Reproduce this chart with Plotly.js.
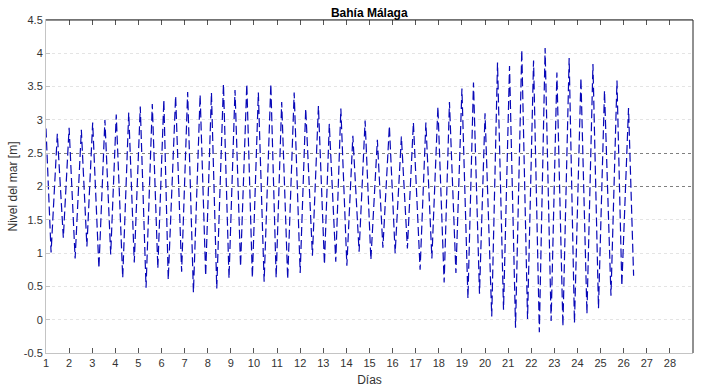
<!DOCTYPE html>
<html>
<head>
<meta charset="utf-8">
<script src="https://cdn.plot.ly/plotly-3.0.1.min.js"></script>
<style>html,body{margin:0;padding:0;background:#fff}#chart{width:724px;height:390px}</style>
</head>
<body>
<div id="chart"></div>
<script>
// Tide extremes (time in days, sea level in m)
const dias = [
  1.00, 1.22, 1.49, 1.75, 2.00, 2.26, 2.53, 2.77, 3.02, 3.29,
  3.55, 3.80, 4.04, 4.32, 4.58, 4.82, 5.08, 5.33, 5.60, 5.84,
  6.10, 6.29, 6.61, 6.87, 7.13, 7.38, 7.67, 7.91, 8.16, 8.39,
  8.68, 8.92, 9.18, 9.42, 9.69, 9.93, 10.19, 10.44, 10.73, 10.96,
  11.20, 11.46, 11.74, 12.00, 12.24, 12.53, 12.79, 13.05, 13.26, 13.54,
  13.76, 14.02, 14.28, 14.55, 14.81, 15.06, 15.34, 15.58, 15.86, 16.11,
  16.38, 16.64, 16.90, 17.19, 17.44, 17.70, 17.96, 18.23, 18.46, 18.74,
  19.00, 19.26, 19.50, 19.76, 20.00, 20.29, 20.54, 20.80, 21.06, 21.32,
  21.59, 21.84, 22.10, 22.35, 22.60, 22.86, 23.11, 23.37, 23.64, 23.87,
  24.15, 24.41, 24.67, 24.91, 25.17, 25.45, 25.71, 25.92, 26.21, 26.43
];
const nivel = [
  2.87, 1.01, 2.79, 1.23, 2.88, 0.92, 2.85, 1.10, 2.96, 0.77,
  3.00, 0.98, 3.08, 0.63, 3.11, 0.86, 3.20, 0.48, 3.24, 0.77,
  3.30, 0.60, 3.36, 0.72, 3.42, 0.41, 3.38, 0.66, 3.41, 0.47,
  3.54, 0.62, 3.45, 0.80, 3.54, 0.63, 3.41, 0.57, 3.54, 0.63,
  3.27, 0.61, 3.41, 0.70, 3.17, 0.96, 3.21, 0.83, 2.94, 0.87,
  3.17, 0.81, 2.76, 1.02, 2.99, 0.90, 2.70, 1.08, 2.91, 1.00,
  2.75, 1.07, 2.96, 0.75, 2.96, 0.92, 3.20, 0.56, 3.27, 0.70,
  3.47, 0.32, 3.56, 0.39, 3.10, 0.05, 3.86, 0.15, 3.81, -0.12,
  4.05, 0.01, 3.89, -0.19, 4.08, -0.02, 3.71, -0.10, 3.93, -0.05,
  3.63, 0.09, 3.84, 0.17, 3.44, 0.36, 3.59, 0.51, 3.18, 0.66
];
const xTicks = [1,2,3,4,5,6,7,8,9,10,11,12,13,14,15,16,17,18,19,20,21,22,23,24,25,26,27,28];
const yTicks = [-0.5,0,0.5,1,1.5,2,2.5,3,3.5,4,4.5];
const yTickText = ['-0.5','0','0.5','1','1.5','2','2.5','3','3.5','4','4.5'];
const darkGrid = [2, 2.5];

const fam = 'Liberation Sans, Arial, sans-serif';
const font = {family: fam, size: 11, color: '#333333'};

const traces = [
  {x: dias, y: nivel, type: 'scatter', mode: 'lines',
   line: {color: '#0808b8', width: 1.2, dash: '9px,4px'}, hoverinfo: 'skip', showlegend: false},
  {x: [dias[0]], y: [nivel[0]], yaxis: 'y2', type: 'scatter', mode: 'markers',
   marker: {opacity: 0}, hoverinfo: 'skip', showlegend: false}
];

const layout = {
  width: 724, height: 390,
  margin: {l: 46, r: 31, t: 20, b: 37},
  paper_bgcolor: '#ffffff', plot_bgcolor: '#ffffff',
  font: font,
  title: {text: '<b>Bahía Málaga</b>', x: 0.51, xanchor: 'center', y: 0.978, yanchor: 'top',
          font: {family: fam, size: 12, color: '#000'}},
  xaxis: {
    range: [1, 29], tickvals: xTicks, ticktext: xTicks.map(String),
    ticks: 'inside', ticklen: 5, tickcolor: '#555', tickwidth: 1,
    showgrid: false, zeroline: false,
    showline: true, linecolor: '#c4c4c4', linewidth: 1, mirror: 'ticks',
    tickfont: font,
    title: {text: 'Días', font: {family: fam, size: 12, color: '#333333'}, standoff: 7}
  },
  yaxis: {
    range: [-0.5, 4.5], tickvals: yTicks, ticktext: yTickText,
    ticks: 'inside', ticklen: 4, tickcolor: '#c4c4c4',
    showgrid: true, gridcolor: '#e4e4e4', griddash: 'dot', gridwidth: 1,
    zeroline: false,
    showline: true, linecolor: '#c4c4c4', linewidth: 1,
    tickfont: font,
    title: {text: 'Nivel del mar [m]', font: {family: fam, size: 12, color: '#333333'}, standoff: 3}
  },
  yaxis2: {
    overlaying: 'y', range: [-0.5, 4.5], tickvals: darkGrid,
    showticklabels: false, ticks: '', showgrid: true, gridcolor: '#808080',
    griddash: 'dot', gridwidth: 1, zeroline: false, showline: false
  },
  shapes: [
    {type: 'line', xref: 'paper', yref: 'paper', x0: 0, x1: 1, y0: 1, y1: 1, line: {color: '#222', width: 1}},
    {type: 'line', xref: 'paper', yref: 'paper', x0: 1, x1: 1, y0: 0, y1: 1, line: {color: '#222', width: 1}}
  ]
};

Plotly.newPlot('chart', traces, layout, {displayModeBar: false, staticPlot: true});
</script>
</body>
</html>
